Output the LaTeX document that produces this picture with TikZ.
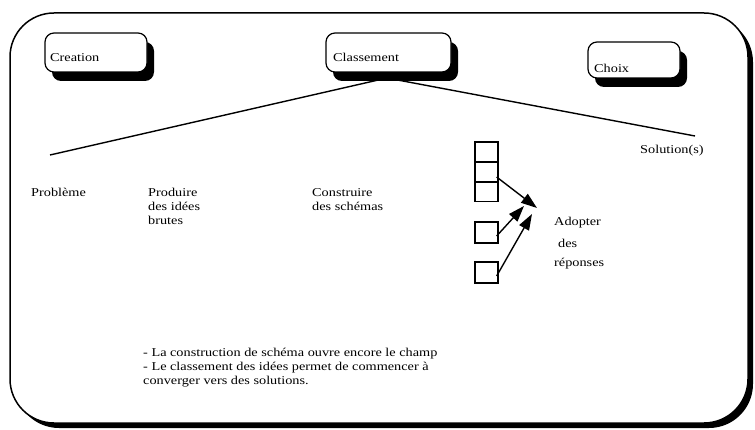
\documentclass[tikz,border=0pt]{standalone}
\usepackage{fontspec}
\setmainfont{Liberation Serif}[FakeStretch=1.19]
\usetikzlibrary{arrows.meta,calc}

\tikzset{
  label text/.style={anchor=base west, inner sep=0pt, font=\fontsize{12}{14}\selectfont},
  frame shadow/.style={fill=black, rounded corners=44pt},
  frame body/.style={draw=black, line width=1.5pt, fill=white, rounded corners=44pt},
  phase shadow/.style={fill=black, rounded corners=9pt},
  phase body/.style={draw=black, line width=1.2pt, fill=white, rounded corners=9pt},
  link/.style={line width=1.4pt},
  cell/.style={draw=black, line width=1.3pt, minimum width=23pt, minimum height=20pt, inner sep=0pt},
  pointer/.style={line width=1.4pt, -{Triangle[length=16pt,width=11pt]}},
}

\newcommand{\phasebox}[5]{%
  % #1 name, #2 x0, #3 y0, #4 x1, #5 y1
  \fill[phase shadow] (#2+7,#3+9) rectangle (#4+7,#5+9);
  \draw[phase body] (#2,#3) rectangle (#4,#5);
  \coordinate (#1) at (#2,#3);
}

\begin{document}
\begin{tikzpicture}[x=1pt,y=-1pt]
\useasboundingbox (0,0) rectangle (755,430);

% outer frame with its drop shadow
\fill[frame shadow] (15,18) rectangle (753,428);
\draw[frame body] (10,13) rectangle (748,423);

% the two branches leaving the "Classement" phase
\coordinate (hub) at (387,78);
\coordinate (pleft) at (50,155);
\coordinate (pright) at (695,136);
\draw[link] (hub) -- (pleft);
\draw[link] (hub) -- (pright);

% phase boxes
\phasebox{creation}{45}{33}{147}{72}
\phasebox{classement}{326}{33}{451}{72}
\phasebox{choix}{588}{42}{680}{78}

\node[label text] (tcreation) at (50,62) {Creation};
\node[label text] (tclassement) at (333,62) {Classement};
\node[label text] (tchoix) at (594,73) {Choix};

% steps
\node[label text] (probleme) at (31,197) {Problème};
\node[label text] (produire) at (148,197)
  {\begin{tabular}[t]{@{}l@{}}Produire\\des idées\\brutes\end{tabular}};
\node[label text] (construire) at (312,197)
  {\begin{tabular}[t]{@{}l@{}}Construire\\des schémas\end{tabular}};
\node[label text] (solutions) at (640,154) {Solution(s)};

% sorted ideas
\node[cell] (c1) at (486.5,152) {};
\node[cell] (c2) at (486.5,172) {};
\node[cell] (c3) at (486.5,191.5) {};
\node[cell, minimum height=21pt] (b2) at (486.5,232.5) {};
\node[cell, minimum height=21pt] (b3) at (486.5,272.5) {};

\coordinate (tipA) at (537,208);
\coordinate (tipB) at (524,206);
\coordinate (tipC) at (532,214);
\draw[pointer] ($(c2.east)+(-2,5)$) -- (tipA);
\draw[pointer] ($(b2.east)+(-2,3.5)$) -- (tipB);
\draw[pointer] ($(b3.east)+(-2,3.5)$) -- (tipC);

\node[label text] (adopter) at (554,226)
  {\begin{tabular}[t]{@{}l@{}}Adopter\\[8pt]\hspace{4pt}des\\[5pt]réponses\end{tabular}};

% comments
\node[label text] (notes) at (143,356)
  {\begin{tabular}[t]{@{}l@{}}- La construction de schéma ouvre encore le champ\\
   - Le classement des idées permet de commencer à\\
   converger vers des solutions.\end{tabular}};
\end{tikzpicture}
\end{document}
